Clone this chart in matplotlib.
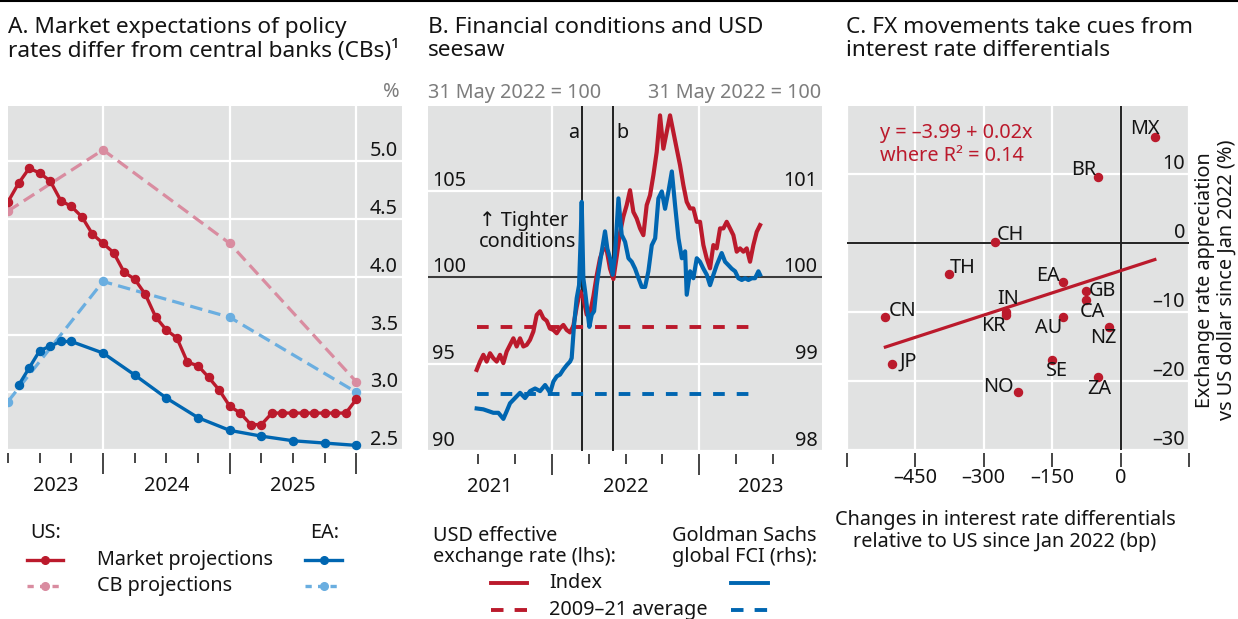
import numpy as np
import matplotlib
matplotlib.use('Agg')
import matplotlib.pyplot as plt
from matplotlib.lines import Line2D
from matplotlib.ticker import FixedLocator
import matplotlib.transforms as mtransforms

plt.rcParams['font.family'] = ['Noto Sans', 'DejaVu Sans']
plt.rcParams['lines.scale_dashes'] = False

# ---------------- DATA ----------------
# Panel A (policy rate paths, %)
a_months = 2023.25 + np.arange(34) / 12
us_market = [4.65, 4.81, 4.94, 4.90, 4.83, 4.66, 4.61, 4.52, 4.37, 4.29,
             4.21, 4.04, 3.98, 3.85, 3.65, 3.54, 3.47, 3.26, 3.23, 3.13,
             3.02, 2.88, 2.82, 2.72, 2.72, 2.82, 2.82, 2.82, 2.82, 2.82,
             2.82, 2.82, 2.82, 2.94]
cb_x = [2023.25, 2024.0, 2025.0, 2026.0]
us_cb = [4.57, 5.10, 4.29, 3.09]
ea_cb = [2.92, 3.96, 3.65, 3.00]
ea_month_idx = [1, 2, 3, 4, 5, 6, 9, 12, 15, 18, 21, 24, 27, 30, 33]
ea_market = [3.06, 3.21, 3.36, 3.40, 3.44, 3.44, 3.34, 3.15, 2.95, 2.78,
             2.67, 2.62, 2.58, 2.56, 2.54]
a_year_labels = ['2023', '2024', '2025']

# Panel B (31 May 2022 = 100)
usd_x = np.linspace(2021.491, 2023.412, 86)
usd = [94.67, 95.15, 95.54, 95.15, 95.63, 95.34, 95.15, 95.54, 95.06, 95.73,
       96.11, 96.49, 96.02, 96.49, 96.02, 96.11, 96.40, 96.88, 97.84, 98.05,
       97.65, 97.50, 97.05, 96.97, 96.78, 97.07, 97.26, 96.97, 96.83, 97.20,
       98.30, 99.20, 98.80, 97.85, 97.93, 98.90, 100.10, 101.10, 101.67, 101.57,
       100.50, 99.90, 101.20, 102.56, 103.50, 104.16, 105.02, 103.77, 103.39, 102.82,
       102.43, 104.16, 104.73, 105.88, 107.22, 109.33, 107.41, 108.37, 109.33, 108.37,
       107.41, 106.46, 105.31, 104.35, 103.97, 103.97, 103.20, 103.20, 101.86, 101.09,
       100.52, 101.86, 101.67, 102.82, 102.82, 103.20, 102.82, 102.43, 101.48, 101.67,
       101.48, 101.67, 100.90, 101.86, 102.62, 103.01]
fci_x = [2021.491, 2021.536, 2021.570, 2021.604, 2021.638, 2021.672, 2021.695, 2021.717, 2021.751, 2021.785,
         2021.819, 2021.853, 2021.887, 2021.921, 2021.955, 2021.989, 2022.011, 2022.034, 2022.056, 2022.079,
         2022.102, 2022.124, 2022.135, 2022.151, 2022.169, 2022.185, 2022.196, 2022.203, 2022.214, 2022.226,
         2022.237, 2022.255, 2022.271, 2022.287, 2022.305, 2022.321, 2022.339, 2022.361, 2022.377, 2022.395,
         2022.413, 2022.429, 2022.452, 2022.474, 2022.497, 2022.520, 2022.542, 2022.565, 2022.588, 2022.610,
         2022.633, 2022.655, 2022.678, 2022.701, 2022.723, 2022.746, 2022.768, 2022.791, 2022.814, 2022.836,
         2022.859, 2022.882, 2022.904, 2022.915, 2022.938, 2022.960, 2022.983, 2023.005, 2023.028, 2023.051,
         2023.073, 2023.096, 2023.118, 2023.152, 2023.175, 2023.198, 2023.220, 2023.243, 2023.265, 2023.288,
         2023.311, 2023.333, 2023.356, 2023.378, 2023.401, 2023.412]
fci = [98.49, 98.48, 98.46, 98.44, 98.44, 98.37, 98.46, 98.55, 98.61, 98.67,
       98.61, 98.69, 98.72, 98.69, 98.76, 98.67, 98.80, 98.86, 98.88, 98.94,
       98.99, 99.03, 99.07, 99.45, 99.76, 99.91, 100.45, 100.87, 99.99, 99.84,
       99.68, 99.43, 99.57, 99.61, 99.91, 100.10, 100.30, 100.53, 100.33, 100.22,
       100.03, 100.26, 100.91, 100.49, 100.41, 100.22, 100.18, 100.10, 99.99, 99.89,
       99.89, 100.07, 100.37, 100.45, 100.91, 100.99, 100.79, 100.99, 101.22, 100.83,
       100.45, 100.22, 100.30, 99.80, 100.07, 99.99, 100.22, 100.18, 100.10, 100.03,
       99.91, 100.03, 100.14, 100.28, 100.18, 100.14, 100.10, 100.07, 99.99, 99.97,
       99.99, 99.97, 99.99, 99.99, 100.07, 100.03]
usd_avg = 97.17
fci_avg = 98.66
event_a = 2022.205
event_b = 2022.414
b_year_labels = ['2021', '2022', '2023']

# Panel C
countries = ['MX', 'BR', 'CH', 'TH', 'EA', 'GB', 'CA', 'IN', 'KR', 'CN', 'AU', 'NZ', 'JP', 'SE', 'ZA', 'NO']
rate_diff = [75.2, -50.4, -275.9, -375.2, -125.5, -75.9, -75.9, -250.4, -250.4, -515.3, -125.5, -24.8, -501.5, -149.6, -50.4, -225.5]
fx_appr = [15.36, 9.61, 0.19, -4.40, -5.70, -6.91, -8.31, -10.0, -10.43, -10.68, -10.77, -12.13, -17.58, -16.91, -19.47, -21.55]
fit_intercept = -3.99
fit_slope = 0.0215

# ---------------- STYLE ----------------
RED = '#BB1A2C'
PINK = '#D98CA0'
BLUE = '#0066B1'
LBLUE = '#6AAEE0'
BG = '#E1E2E2'
GRAY = '#7d7d7d'
TXT = '#141414'
FS_T = 16.3
FS = 14.3

W, H = 1238, 619
fig = plt.figure(figsize=(W / 100, H / 100), dpi=100)


def fx(x):
    return x / W


def fy(y):
    return 1 - y / H


def rect(l, t, r, b):
    return [l / W, 1 - b / H, (r - l) / W, (b - t) / H]


def dash_fmt(v, dec=0):
    s = f'{v:.{dec}f}'
    return s.replace('-', '\u2013')


fig.add_artist(Line2D([0, 1], [fy(1), fy(1)], color='black', lw=1.5))

# ---------------- PANEL A ----------------
axA = fig.add_axes(rect(8, 106, 402, 450))
axA.set_facecolor(BG)
for s in axA.spines.values():
    s.set_visible(False)
axA.set_xlim(2023.25, 2026.36)
axA.set_ylim(2.5, 5.48)
axA.plot(cb_x, us_cb, color=PINK, lw=2.3, dashes=(9, 4.5), marker='o', ms=5.8, zorder=3)
axA.plot(cb_x, ea_cb, color=LBLUE, lw=2.3, dashes=(9, 4.5), marker='o', ms=5.8, zorder=3)
axA.plot(a_months, us_market, color=RED, lw=2.4, marker='o', ms=5.8, zorder=4)
axA.plot(a_months[ea_month_idx], ea_market, color=BLUE, lw=2.4, marker='o', ms=5.8, zorder=4)

axA.xaxis.set_major_locator(FixedLocator([2024, 2025, 2026]))
axA.xaxis.set_minor_locator(FixedLocator([2023.25, 2023.5, 2023.75, 2024.25, 2024.5, 2024.75,
                                          2025.25, 2025.5, 2025.75]))
axA.spines['bottom'].set_position(('outward', 2.2))
axA.tick_params(axis='x', which='major', length=15, width=1.1, color=TXT, labelbottom=False)
axA.tick_params(axis='x', which='minor', length=7.2, width=1.1, color=TXT, labelbottom=False)
axA.set_yticks([2.5, 3.0, 3.5, 4.0, 4.5, 5.0])
axA.set_yticklabels([dash_fmt(v, 1) for v in [2.5, 3.0, 3.5, 4.0, 4.5, 5.0]])
axA.yaxis.tick_right()
axA.tick_params(axis='y', length=0, pad=-2.9, labelsize=FS, labelcolor=TXT)
for lab in axA.get_yticklabels():
    lab.set_ha('right')
    lab.set_va('bottom')
axA.grid(True, which='major', color='white', lw=1.6)
axA.set_axisbelow(True)
secA = axA.secondary_xaxis('bottom')
secA.set_xticks([2023.625, 2024.5, 2025.5], labels=a_year_labels)
secA.tick_params(length=0, pad=19, labelsize=FS, labelcolor=TXT)
secA.spines['bottom'].set_visible(False)

# ---------------- PANEL B ----------------
axB = fig.add_axes(rect(428.3, 106, 821.7, 451))
axB.set_facecolor(BG)
for s in axB.spines.values():
    s.set_visible(False)
axB.set_xlim(2021.163, 2023.83)
axB.set_ylim(90, 109.87)
axB.axhline(100, color='#3c3c3c', lw=1.5, zorder=1.5)
axB.axvline(event_a, color='black', lw=1.2, zorder=1.5)
axB.axvline(event_b, color='black', lw=1.2, zorder=1.5)
axB.plot(usd_x, usd, color=RED, lw=3.0, zorder=2, solid_joinstyle='round')
axB.plot([usd_x[0], usd_x[-1]], [usd_avg, usd_avg], color=RED, lw=2.8, dashes=(8.4, 8.6), zorder=2)

axB.xaxis.set_major_locator(FixedLocator([2022, 2023]))
axB.xaxis.set_minor_locator(FixedLocator([2021.5, 2021.75, 2022.25, 2022.5, 2022.75, 2023.25, 2023.5]))
axB.spines['bottom'].set_position(('outward', 2.2))
axB.tick_params(axis='x', which='major', length=15, width=1.1, color=TXT, labelbottom=False)
axB.tick_params(axis='x', which='minor', length=7.2, width=1.1, color=TXT, labelbottom=False)
axB.set_yticks([90, 95, 100, 105])
axB.tick_params(axis='y', length=0, pad=-2.5, labelsize=FS, labelcolor=TXT)
for lab in axB.get_yticklabels():
    lab.set_ha('left')
    lab.set_va('bottom')
axB.grid(True, which='major', color='white', lw=1.6)
axB.set_axisbelow(True)

axB2 = axB.twinx()
for s in axB2.spines.values():
    s.set_visible(False)
axB2.set_ylim(98, 101.974)
axB2.plot(fci_x, fci, color=BLUE, lw=3.0, zorder=3, solid_joinstyle='round')
axB2.plot([fci_x[0], fci_x[-1]], [fci_avg, fci_avg], color=BLUE, lw=2.8, dashes=(8.4, 8.6), zorder=2)
axB2.set_yticks([98, 99, 100, 101])
axB2.tick_params(axis='y', length=0, pad=-3.2, labelsize=FS, labelcolor=TXT)
for lab in axB2.get_yticklabels():
    lab.set_ha('right')
    lab.set_va('bottom')

secB = axB.secondary_xaxis('bottom')
secB.set_xticks([2021.58, 2022.5, 2023.415], labels=b_year_labels)
secB.tick_params(length=0, pad=19, labelsize=FS, labelcolor=TXT)
secB.spines['bottom'].set_visible(False)

trB = mtransforms.blended_transform_factory(axB.transData, axB.transAxes)
axB.annotate('a', xy=(event_a, 0.922), xycoords=trB, xytext=(-3, 0), textcoords='offset pixels',
             ha='right', va='center', fontsize=FS, color=TXT)
axB.annotate('b', xy=(event_b, 0.922), xycoords=trB, xytext=(4, 0), textcoords='offset pixels',
             ha='left', va='center', fontsize=FS, color=TXT)
fig.text(fx(479), fy(231.5), '\u2191 Tighter\nconditions', ha='left', va='center',
         fontsize=FS, color=TXT, linespacing=1.1)

# ---------------- PANEL C ----------------
axC = fig.add_axes(rect(846.7, 106, 1189, 450))
axC.set_facecolor(BG)
for s in axC.spines.values():
    s.set_visible(False)
axC.set_xlim(-600, 150)
axC.set_ylim(-30, 19.9)
axC.axhline(0, color='#222222', lw=1.4, zorder=1.5)
axC.axvline(0, color='#222222', lw=1.4, zorder=1.5)
xfit = np.array([min(rate_diff), max(rate_diff)])
axC.plot(xfit, fit_intercept + fit_slope * xfit, color=RED, lw=2.3, zorder=2)
axC.plot(rate_diff, fx_appr, 'o', color=RED, ms=5.8, zorder=3)
label_off = {'MX': (-10, 8), 'BR': (-14, 7), 'CH': (16, 7), 'TH': (13, 6), 'EA': (-15, 6),
             'GB': (17, 0), 'CA': (7, -12), 'IN': (2, 13), 'KR': (-13, -11), 'CN': (17, 6),
             'AU': (-15, -11), 'NZ': (-6, -11), 'JP': (17, 3), 'SE': (5, -11), 'ZA': (2, -12),
             'NO': (-19, 5)}
for c, xv, yv in zip(countries, rate_diff, fx_appr):
    axC.annotate(c, xy=(xv, yv), xytext=label_off[c], textcoords='offset pixels',
                 ha='center', va='center', fontsize=FS, color=TXT, zorder=4)
axC.set_xticks([-600, -450, -300, -150, 0, 150])
axC.set_xticklabels(['', dash_fmt(-450), dash_fmt(-300), dash_fmt(-150), '0', ''])
axC.spines['bottom'].set_position(('outward', 2.2))
axC.tick_params(axis='x', length=10, width=1.1, color=TXT, pad=1.0, labelsize=FS, labelcolor=TXT)
axC.set_yticks([-30, -20, -10, 0, 10])
axC.set_yticklabels([dash_fmt(v) for v in [-30, -20, -10, 0, 10]])
axC.yaxis.tick_right()
axC.tick_params(axis='y', length=0, pad=-2.9, labelsize=FS, labelcolor=TXT)
for lab in axC.get_yticklabels():
    lab.set_ha('right')
    lab.set_va('bottom')
axC.grid(True, which='major', color='white', lw=1.6)
axC.set_axisbelow(True)
fig.text(fx(880), fy(133), 'y = \u20133.99 + 0.02x', ha='left', va='center', fontsize=FS, color=RED)
fig.text(fx(880), fy(156), 'where R\u00b2 = 0.14', ha='left', va='center', fontsize=FS, color=RED)

# ---------------- TITLES / UNITS ----------------
fig.text(fx(8), fy(17), 'A. Market expectations of policy\nrates differ from central banks (CBs)\u00b9',
         ha='left', va='top', fontsize=FS_T, color=TXT, linespacing=1.13)
fig.text(fx(428), fy(17), 'B. Financial conditions and USD\nseesaw',
         ha='left', va='top', fontsize=FS_T, color=TXT, linespacing=1.13)
fig.text(fx(846), fy(17), 'C. FX movements take cues from\ninterest rate differentials',
         ha='left', va='top', fontsize=FS_T, color=TXT, linespacing=1.13)
fig.text(fx(400), fy(92), '%', ha='right', va='center', fontsize=FS, color=GRAY)
fig.text(fx(428), fy(93), '31 May 2022 = 100', ha='left', va='center', fontsize=FS, color=GRAY)
fig.text(fx(821), fy(93), '31 May 2022 = 100', ha='right', va='center', fontsize=FS, color=GRAY)
fig.text(fx(1216), fy(280), 'Exchange rate appreciation\nvs US dollar since Jan 2022 (%)',
         rotation=90, ha='center', va='center', multialignment='center', fontsize=FS, color=TXT,
         linespacing=1.1)
fig.text(fx(1005), fy(531), 'Changes in interest rate differentials\nrelative to US since Jan 2022 (bp)',
         ha='center', va='center', multialignment='center', fontsize=FS, color=TXT, linespacing=1.1)

# ---------------- LEGENDS ----------------
def key(x1, x2, y, color, lw, dashed=False, marker=False, dash=(7.5, 5)):
    xs = [fx(x1), fx((x1 + x2) / 2), fx(x2)]
    ln = Line2D(xs, [fy(y)] * 3, color=color, lw=lw)
    if dashed:
        ln.set_dashes(dash)
    if marker:
        ln.set_marker('o')
        ln.set_markersize(5.5)
        ln.set_markevery([1])
    fig.add_artist(ln)


fig.text(fx(30), fy(533), 'US:', ha='left', va='center', fontsize=FS, color=TXT)
fig.text(fx(310), fy(533), 'EA:', ha='left', va='center', fontsize=FS, color=TXT)
key(27, 63, 560, RED, 2.4, marker=True)
key(27, 63, 586, PINK, 2.4, dashed=True, marker=True, dash=(4.5, 4.5))
key(305, 342, 560, BLUE, 2.4, marker=True)
key(305, 342, 586, LBLUE, 2.4, dashed=True, marker=True, dash=(4.5, 4.5))
fig.text(fx(97), fy(560), 'Market projections', ha='left', va='center', fontsize=FS, color=TXT)
fig.text(fx(97), fy(586), 'CB projections', ha='left', va='center', fontsize=FS, color=TXT)

fig.text(fx(433), fy(546.5), 'USD effective\nexchange rate (lhs):', ha='left', va='center',
         fontsize=FS, color=TXT, linespacing=1.1)
fig.text(fx(672), fy(546.5), 'Goldman Sachs\nglobal FCI (rhs):', ha='left', va='center',
         fontsize=FS, color=TXT, linespacing=1.1)
key(491, 527, 583, RED, 2.8)
key(491, 527, 610, RED, 2.8, dashed=True, dash=(9, 8))
key(731, 768, 583, BLUE, 2.8)
key(731, 768, 610, BLUE, 2.8, dashed=True, dash=(9, 8))
fig.text(fx(549), fy(583), 'Index', ha='left', va='center', fontsize=FS, color=TXT)
fig.text(fx(549), fy(610), '2009\u201321 average', ha='left', va='center', fontsize=FS, color=TXT)

fig.savefig('out.png', dpi=100)
